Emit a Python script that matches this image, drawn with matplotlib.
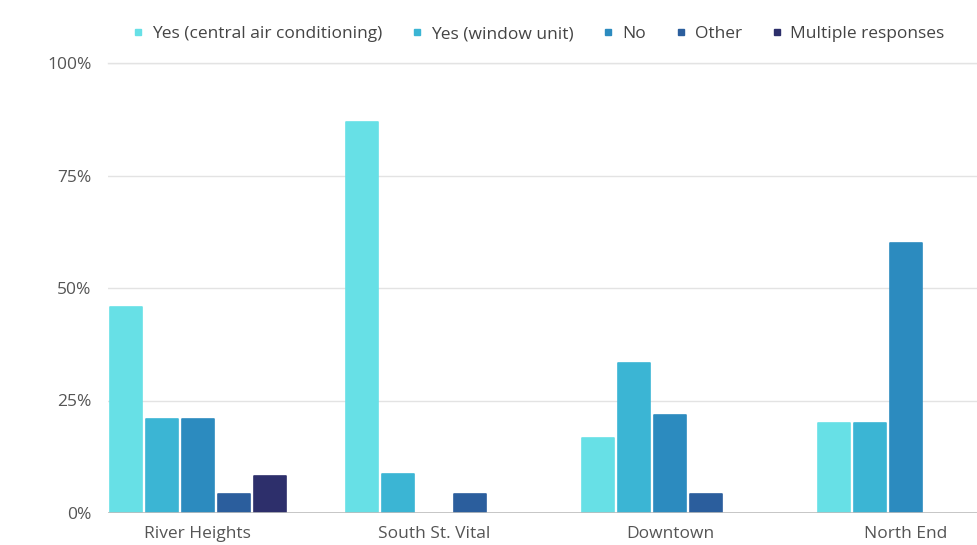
import matplotlib
matplotlib.use("Agg")
import matplotlib.pyplot as plt
from matplotlib.lines import Line2D
import numpy as np

# ---- data ----
neighbourhoods = ["River Heights", "South St. Vital", "Downtown", "North End"]
responses = ["Yes (central air conditioning)", "Yes (window unit)", "No", "Other",
             "Multiple responses"]
central_ac = [45.8, 87.0, 16.7, 20.0]
window_unit = [20.8, 8.7, 33.3, 20.0]
no_ac = [20.8, 0.0, 21.7, 60.0]
other = [4.2, 4.3, 4.2, 0.0]
multiple = [8.3, 0.0, 0.0, 0.0]
yticks = [0, 25, 50, 75, 100]

colors = ["#67E0E6", "#3BB5D4", "#2C8BBF", "#2B5E9D", "#2D2F6B"]
series = [central_ac, window_unit, no_ac, other, multiple]

plt.rcParams["font.family"] = ["Open Sans", "DejaVu Sans"]

fig = plt.figure(figsize=(9.77, 5.45), dpi=100)
ax = fig.add_axes([108 / 977, 1 - 513 / 545, 1 - 108 / 977, (513 - 63) / 545])

x = np.arange(len(neighbourhoods))
pitch = 36 / 236
width = 32 / 236
for i, (vals, col) in enumerate(zip(series, colors)):
    offs = (i - 2) * pitch
    vals = np.array(vals)
    mask = vals > 0
    ax.bar(x[mask] + offs, vals[mask], width=width, color=col,
           edgecolor=col, linewidth=1.2, joinstyle="round", zorder=3)

ax.set_xlim(-0.381, (977 - 198) / 236)
ax.set_ylim(0, 100)
ax.set_yticks(yticks)
ax.set_yticklabels([f"{v}%" for v in yticks])
ax.set_xticks(x)
ax.set_xticklabels(neighbourhoods)
ax.tick_params(axis="both", length=0, labelsize=12.5, labelcolor="#555555")
ax.tick_params(axis="y", pad=12)
ax.tick_params(axis="x", pad=9)
ax.grid(axis="y", color="#e3e3e3", linewidth=1.0, zorder=0)
ax.set_axisbelow(True)
for s in ax.spines.values():
    s.set_visible(False)
ax.axhline(0, color="#bdbdbd", linewidth=1.2, zorder=4)
ax.axhline(100, color="#e3e3e3", linewidth=1.0, zorder=0, clip_on=False)

handles = [Line2D([], [], marker="s", linestyle="", markersize=5,
                  markerfacecolor=c, markeredgecolor=c) for c in colors]
fig.legend(handles, responses, loc="center", bbox_to_anchor=(538 / 977, 1 - 34 / 545),
           ncol=5, frameon=False, fontsize=12.5, labelcolor="#444444",
           handletextpad=0.4, columnspacing=1.6, handlelength=0.8)

fig.savefig("out.png", dpi=100)
